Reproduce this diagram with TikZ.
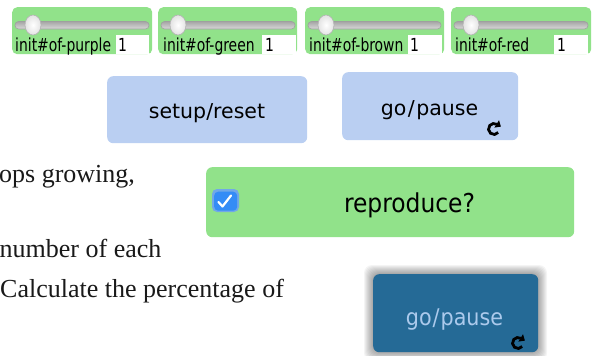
\documentclass[tikz,border=0pt]{standalone}
\usepackage{fontspec}
\setmainfont{Liberation Serif}
\newfontfamily\uisans{DejaVu Sans}
\newfontfamily\uicond{DejaVu Sans Condensed}
\newfontfamily\uinarrow[FakeStretch=0.86]{DejaVu Sans Condensed}
\definecolor{slgreen}{RGB}{145,226,138}
\definecolor{btnblue}{RGB}{186,207,242}
\definecolor{darkbtn}{RGB}{37,106,150}
\definecolor{darktxt}{RGB}{172,202,236}
\definecolor{cbblue}{RGB}{52,140,246}
\definecolor{cbglow}{RGB}{112,168,232}
\definecolor{inktext}{RGB}{25,25,25}
\begin{document}
\begin{tikzpicture}[x=1pt,y=-1pt,
  panel/.style={fill=slgreen, rounded corners=5pt, draw=none, inner sep=0pt, anchor=north west},
  btnbox/.style={fill=btnblue, rounded corners=6pt, draw=none, inner sep=0pt, anchor=north west},
  darkbox/.style={fill=darkbtn, rounded corners=6pt, draw=none, inner sep=0pt, anchor=north west},
  track/.style={rounded corners=3.5pt, top color=gray!70, bottom color=gray!30, draw=gray!75, line width=0.6pt},
  knobstyle/.style={inner color=white, outer color=gray!22, draw=gray!60, line width=0.6pt},
  valbox/.style={fill=white, draw=none, inner sep=0pt, anchor=north west},
  sltext/.style={anchor=base west, inner sep=0pt, text=black, font=\uinarrow\fontsize{18}{20}\selectfont},
  btntext/.style={anchor=base, inner sep=0pt, text=black, font=\uisans\fontsize{20.5}{24}\selectfont},
  bodytext/.style={anchor=base west, inner sep=0pt, text=inktext, font=\fontsize{26}{30}\selectfont},
  iconarc/.style={black, line width=2.8pt},
  iconhead/.style={black}
]
\useasboundingbox (0,0) rectangle (595,356);

% ---------- sliders ----------
\node[panel, minimum width=140pt, minimum height=47pt] (s1) at (12,7) {};
\node[panel, minimum width=139pt, minimum height=47pt] (s2) at (158,7) {};
\node[panel, minimum width=139pt, minimum height=47pt] (s3) at (305,7) {};
\node[panel, minimum width=140pt, minimum height=47pt] (s4) at (451,7) {};

\path[track] (15,21.5) rectangle (149,29);
\path[track] (161,21.5) rectangle (295,29);
\path[track] (308,21.5) rectangle (441,29);
\path[track] (454,21.5) rectangle (588,29);

\path[knobstyle] (33,25) ellipse [x radius=8, y radius=10];
\path[knobstyle] (178,25) ellipse [x radius=8, y radius=10];
\path[knobstyle] (326,25) ellipse [x radius=8, y radius=10];
\path[knobstyle] (471,25) ellipse [x radius=8, y radius=10];

\node[valbox, minimum width=33pt, minimum height=18.5pt] (b1) at (116,35) {};
\node[valbox, minimum width=34pt, minimum height=18.5pt] (b2) at (262,35) {};
\node[valbox, minimum width=34pt, minimum height=18.5pt] (b3) at (408,35) {};
\node[valbox, minimum width=34pt, minimum height=18.5pt] (b4) at (554,35) {};

\node[sltext] (l1) at (15,51.5) {init\#of-purple};
\node[sltext] (l2) at (163,51.5) {init\#of-green};
\node[sltext] (l3) at (309,51.5) {init\#of-brown};
\node[sltext] (l4) at (455,51.5) {init\#of-red};

\node[sltext] (v1) at (118,51) {1};
\node[sltext] (v2) at (265,51) {1};
\node[sltext] (v3) at (410,51) {1};
\node[sltext] (v4) at (557,51) {1};

% ---------- buttons ----------
\node[btnbox, minimum width=200pt, minimum height=67pt] (setup) at (107,76) {};
\node[btntext] (setupt) at (207,118) {setup/reset};

\node[btnbox, minimum width=176pt, minimum height=68pt] (go) at (342,72) {};
\node[btntext] (got) at (429.5,115) {go\kern1.5pt/\kern1.5pt pause};
\coordinate (ic1) at (494,129);
\begin{scope}[shift={(ic1)}]
  \draw[iconarc] (40:5.5) arc[start angle=40, end angle=300, radius=5.5];
  \fill[iconhead] (6.9,-2.4) -- (5.0,-8.8) -- (0.4,-1.4) -- cycle;
\end{scope}

% ---------- reproduce switch ----------
\node[panel, rounded corners=6pt, minimum width=368pt, minimum height=70pt] (repro) at (206,167) {};
\fill[cbglow, rounded corners=5pt] (212,189) rectangle (239,212);
\node[fill=cbblue, rounded corners=4pt, inner sep=0pt, anchor=north west, minimum width=23pt, minimum height=19pt] (cb) at (214,191.5) {};
\draw[white, line width=2.2pt, line cap=round, line join=round] (218.5,202) -- (222.5,206.5) -- (231,195.5);
\node[anchor=base, inner sep=0pt, text=black, font=\uicond\fontsize{26}{30}\selectfont] (reprot) at (409.5,212) {reproduce?};

% ---------- dark go/pause ----------
\foreach \i in {1,...,9}
  \fill[black, opacity=0.045, rounded corners=8pt] (373-\i,274-\i) rectangle (538+\i,352+\i);
\node[darkbox, minimum width=165pt, minimum height=78pt] (go2) at (373,274) {};
\node[anchor=base, inner sep=0pt, text=darktxt, font=\uicond\fontsize{23}{27}\selectfont] (go2t) at (454.5,325) {go\kern1pt/\kern1pt pause};
\coordinate (ic2) at (518,343);
\begin{scope}[shift={(ic2)}]
  \draw[iconarc] (40:5.5) arc[start angle=40, end angle=300, radius=5.5];
  \fill[iconhead] (6.9,-2.4) -- (5.0,-8.8) -- (0.4,-1.4) -- cycle;
\end{scope}

% ---------- body text ----------
\node[bodytext] (t1) at (-1,182) {ops growing,};
\node[bodytext] (t2) at (-0.5,257) {number of each};
\node[bodytext] (t3) at (0,297) {Calculate the percentage of};
\end{tikzpicture}
\end{document}
